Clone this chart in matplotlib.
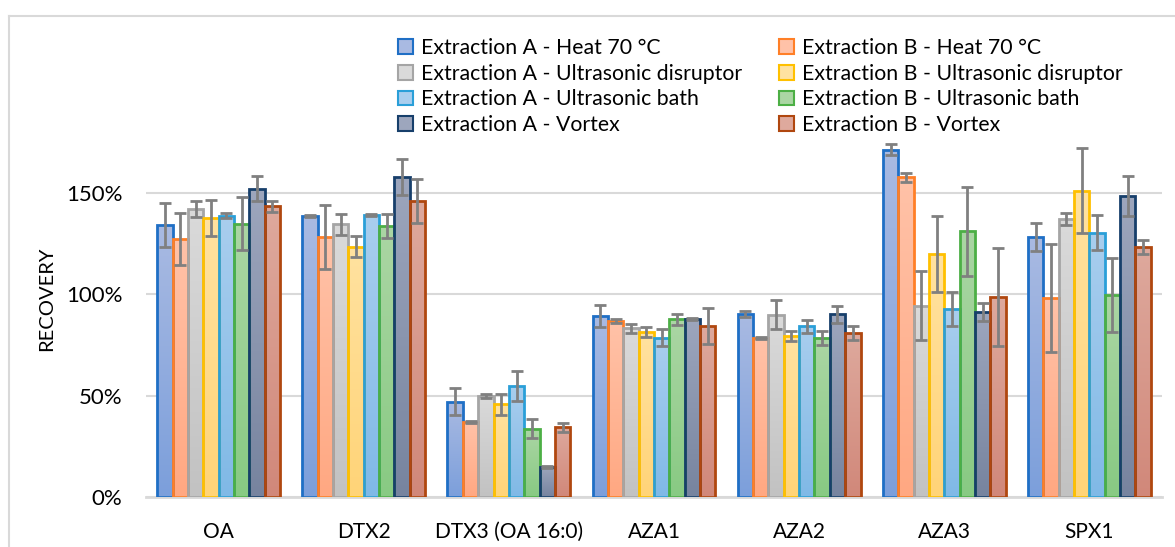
import numpy as np
import matplotlib
matplotlib.use("Agg")
import matplotlib.pyplot as plt
from matplotlib.colors import to_rgb
from matplotlib.patches import Patch

plt.rcParams['font.family'] = ['Lato', 'DejaVu Sans']

categories = ["OA", "DTX2", "DTX3 (OA 16:0)", "AZA1", "AZA2", "AZA3", "SPX1"]

names = ["Extraction A - Heat 70 °C", "Extraction B - Heat 70 °C",
         "Extraction A - Ultrasonic disruptor", "Extraction B - Ultrasonic disruptor",
         "Extraction A - Ultrasonic bath", "Extraction B - Ultrasonic bath",
         "Extraction A - Vortex", "Extraction B - Vortex"]

# recovery in %
a_heat = [134.1, 138.7, 47.1, 89.3, 90.4, 171.1, 128.0]
b_heat = [127.2, 128.2, 37.2, 86.8, 78.6, 157.6, 98.0]
a_disr = [142.1, 134.4, 50.0, 83.2, 89.9, 94.3, 136.9]
b_disr = [137.5, 123.4, 45.8, 81.2, 79.3, 119.8, 151.0]
a_bath = [138.7, 139.1, 54.8, 78.6, 84.2, 92.7, 130.3]
b_bath = [134.7, 133.6, 33.8, 87.6, 78.4, 131.0, 99.5]
a_vort = [152.0, 157.6, 14.8, 87.8, 90.1, 91.1, 148.4]
b_vort = [143.3, 145.9, 34.5, 84.3, 81.0, 98.5, 123.4]

a_heat_err = [11.0, 0.5, 6.6, 5.3, 1.4, 2.8, 6.9]
b_heat_err = [13.0, 15.7, 0.5, 1.2, 0.5, 2.3, 26.7]
a_disr_err = [4.0, 5.3, 1.1, 2.3, 7.0, 17.0, 3.0]
b_disr_err = [9.0, 5.3, 5.2, 2.4, 2.4, 18.6, 20.8]
a_bath_err = [1.3, 0.4, 7.5, 4.3, 3.3, 8.5, 8.7]
b_bath_err = [13.0, 6.0, 4.6, 2.6, 3.4, 21.9, 18.2]
a_vort_err = [6.0, 8.9, 0.6, 0.3, 4.3, 4.4, 9.8]
b_vort_err = [2.6, 10.7, 2.3, 9.0, 3.5, 24.2, 3.5]

series = [a_heat, b_heat, a_disr, b_disr, a_bath, b_bath, a_vort, b_vort]
errors = [a_heat_err, b_heat_err, a_disr_err, b_disr_err,
          a_bath_err, b_bath_err, a_vort_err, b_vort_err]

edge_colors = ["#1F6FC5", "#FF7F27", "#A5A5A5", "#FFC000",
               "#2A9FD8", "#4CAF45", "#173F6B", "#B0470F"]
top_colors = ["#A9BAE2", "#FFC2A8", "#DADADA", "#FFE2A0",
              "#A9CEEE", "#ABD6A4", "#9DA6BD", "#DEA99D"]
bot_colors = ["#7C9FDB", "#FFA882", "#C2C2C2", "#FFD478",
              "#80B9E6", "#88CA83", "#77849F", "#D1887A"]

fig = plt.figure(figsize=(11.75, 5.47), dpi=100)

# outer chart frame (top + left only visible)
fig.add_artist(plt.Line2D([8.5/1175, 8.5/1175], [0, 1-16/547], color="#D9D9D9", lw=1.5))
fig.add_artist(plt.Line2D([8.5/1175, 1], [1-16/547, 1-16/547], color="#D9D9D9", lw=1.5))

ax = fig.add_axes([146/1175, 1-497.3/547, (1162-146)/1175, (497.3-131.7)/547])

x = np.arange(len(categories))
n = len(series)
w = 0.1057

for i in range(n):
    pos = x + (i - (n-1)/2) * w
    vals = np.array(series[i]) / 100
    errs = np.array(errors[i]) / 100
    bars = ax.bar(pos, vals, w, facecolor="none", edgecolor=edge_colors[i], linewidth=2, zorder=3)
    grad = np.zeros((64, 1, 3))
    c0 = np.array(to_rgb(bot_colors[i]))
    c1 = np.array(to_rgb(top_colors[i]))
    for k in range(64):
        grad[k, 0] = c0 + (c1 - c0) * k / 63
    for b in bars:
        im = ax.imshow(grad, extent=(b.get_x(), b.get_x()+b.get_width(), 0, b.get_height()),
                       origin="lower", aspect="auto", interpolation="bilinear", zorder=2)
        im.set_clip_path(b)
    ax.errorbar(pos, vals, yerr=errs, fmt="none", ecolor="#808080", elinewidth=2,
                capsize=4, capthick=2, zorder=4)

ax.set_xlim(-0.5, len(categories)-0.5)
ax.set_ylim(0, 1.8)
ax.set_yticks([0, 0.5, 1.0, 1.5])
ax.set_yticklabels(["0%", "50%", "100%", "150%"])
ax.set_xticks(x)
ax.set_xticklabels(categories)
ax.yaxis.grid(True, color="#D9D9D9", linewidth=1.5)
ax.set_axisbelow(True)
for s in ["top", "right", "left"]:
    ax.spines[s].set_visible(False)
ax.spines["bottom"].set_color("#D9D9D9")
ax.spines["bottom"].set_linewidth(2)
ax.tick_params(axis="both", length=0, labelsize=15, colors="#000000")
ax.tick_params(axis="y", pad=17, labelsize=16)
ax.tick_params(axis="x", pad=18)

fig.text(47/1175, 1-299/547, "RECOVERY", rotation=90, ha="center", va="center", fontsize=14.5)

handles = [Patch(facecolor=top_colors[i], edgecolor=edge_colors[i], linewidth=1.5, label=names[i])
           for i in [0, 2, 4, 6, 1, 3, 5, 7]]
fig.legend(handles=handles, ncol=2, loc="upper left", bbox_to_anchor=(398/1175, 1-38/547),
           frameon=False, fontsize=15.3, handlelength=0.7, handleheight=0.7,
           handletextpad=0.4, columnspacing=1.7, labelspacing=0.27, borderaxespad=0, borderpad=0)

plt.savefig("out.png", dpi=100)
plt.close()
